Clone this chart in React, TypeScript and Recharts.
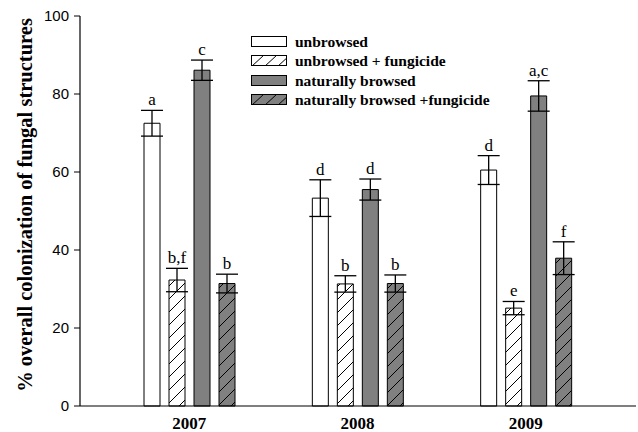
import React from "react"
import { BarChart, Bar, XAxis, YAxis, ErrorBar, LabelList } from "recharts"

document.body.style.margin = "0"

const years = ["2007", "2008", "2009"]
const unbrowsed = [72.5, 53.3, 60.5]
const unbrowsedErr = [3.3, 4.7, 3.7]
const unbrowsedFung = [32.3, 31.3, 25.1]
const unbrowsedFungErr = [3.0, 2.1, 1.7]
const browsed = [86.1, 55.5, 79.5]
const browsedErr = [2.6, 2.7, 3.9]
const browsedFung = [31.4, 31.4, 37.9]
const browsedFungErr = [2.4, 2.2, 4.2]
const lettersU = ["a", "d", "d"]
const lettersUF = ["b,f", "b", "e"]
const lettersB = ["c", "d", "a,c"]
const lettersBF = ["b", "b", "f"]
const yTicks = [0, 20, 40, 60, 80, 100]

const data = years.map((y, i) => ({
  year: y,
  u: unbrowsed[i], uErr: unbrowsedErr[i], uL: lettersU[i],
  uf: unbrowsedFung[i], ufErr: unbrowsedFungErr[i], ufL: lettersUF[i],
  b: browsed[i], bErr: browsedErr[i], bL: lettersB[i],
  bf: browsedFung[i], bfErr: browsedFungErr[i], bfL: lettersBF[i],
}))

const GREY = "#808080"
const serif = "'Liberation Serif', 'Times New Roman', serif"
const plotH = 389
const pxPer = plotH / 100

const series = [
  { key: "u", name: "unbrowsed", fill: "#ffffff", errs: unbrowsedErr },
  { key: "uf", name: "unbrowsed + fungicide", fill: "url(#hatchWhite)", errs: unbrowsedFungErr },
  { key: "b", name: "naturally browsed", fill: GREY, errs: browsedErr },
  { key: "bf", name: "naturally browsed +fungicide", fill: "url(#hatchGrey)", errs: browsedFungErr },
]

function letterContent(errs: number[]) {
  return (props: any) => {
    const { x, y, width, value, index } = props
    const off = errs[index] * pxPer + 5
    return (
      <text x={x + width / 2} y={y - off} textAnchor="middle" fontFamily={serif} fontSize={17} fill="#000" stroke="none">
        {value}
      </text>
    )
  }
}

// y-axis title, drawn by hand so it sits where the original does
const yTitle = () => {
  const cx = 25
  const cy = 205
  return (
    <text
      x={cx}
      y={cy}
      transform={`rotate(-90, ${cx}, ${cy})`}
      textAnchor="middle"
      dominantBaseline="central"
      fontFamily={serif}
      fontWeight="bold"
      fontSize={20.5}
      fill="#000"
    >
      % overall colonization of fungal structures
    </text>
  )
}

function Swatch({ bg, hatch }: { bg: string; hatch: boolean }) {
  const id = "sw" + bg.replace("#", "")
  return (
    <svg width={37} height={12} style={{ display: "block" }}>
      <defs>
        <pattern id={id} patternUnits="userSpaceOnUse" width={13} height={12}>
          <rect width={13} height={12} fill={bg} />
          <path d="M0,12 L13,0" stroke="#000" strokeWidth={1} />
        </pattern>
      </defs>
      <rect x={0.5} y={0.5} width={35} height={10} fill={hatch ? `url(#${id})` : bg} stroke="#000" strokeWidth={1} />
    </svg>
  )
}

function CustomLegend() {
  return (
    <div style={{ position: "absolute", left: 251, top: 32, fontFamily: serif, fontWeight: "bold", fontSize: 15.5, color: "#000" }}>
      {series.map((s) => (
        <div key={s.key} style={{ display: "flex", alignItems: "center", height: 19.5, whiteSpace: "nowrap" }}>
          <Swatch bg={s.key.startsWith("u") ? "#ffffff" : GREY} hatch={s.key.endsWith("f")} />
          <span style={{ marginLeft: 7 }}>{s.name}</span>
        </div>
      ))}
    </div>
  )
}

export default function App() {
  return (
    <div style={{ position: "relative", width: 638, height: 432 }}>
      <BarChart
        width={638}
        height={432}
        data={data}
        margin={{ top: 16, right: 2, bottom: 0, left: 0 }}
        barSize={16}
        barGap={9}
      >
        <defs>
          <pattern id="hatchWhite" patternUnits="userSpaceOnUse" width={13} height={13}>
            <rect width={13} height={13} fill="#ffffff" />
            <path d="M0,13 L13,0 M-1,1 L1,-1 M12,14 L14,12" stroke="#000" strokeWidth={1} />
          </pattern>
          <pattern id="hatchGrey" patternUnits="userSpaceOnUse" width={13} height={13}>
            <rect width={13} height={13} fill={GREY} />
            <path d="M0,13 L13,0 M-1,1 L1,-1 M12,14 L14,12" stroke="#000" strokeWidth={1} />
          </pattern>
        </defs>
        <XAxis
          dataKey="year"
          height={26}
          padding={{ left: 25, right: 26 }}
          tickLine={false}
          tickSize={0}
          tickMargin={11}
          axisLine={{ stroke: "#000", strokeWidth: 1.2 }}
          tick={{ fontFamily: serif, fontWeight: "bold", fontSize: 17, fill: "#000" }}
        />
        <XAxis xAxisId="top" dataKey="year" orientation="top" height={0} tick={false} tickLine={false} axisLine={{ stroke: "#000", strokeWidth: 1.2 }} />
        <YAxis
          width={80}
          domain={[0, 100]}
          ticks={yTicks}
          tickSize={6}
          tickMargin={5}
          axisLine={{ stroke: "#000", strokeWidth: 1.2 }}
          tickLine={{ stroke: "#000" }}
          tick={{ fontFamily: "'Liberation Sans', Arial, sans-serif", fontSize: 15, fill: "#000" }}
          label={{ content: yTitle }}
        />
        <YAxis yAxisId="right" orientation="right" width={0} tick={false} tickLine={false} axisLine={{ stroke: "#000", strokeWidth: 1.2 }} />
        {series.map((s) => (
          <Bar key={s.key} dataKey={s.key} name={s.name} fill={s.fill} stroke="#000" strokeWidth={1} isAnimationActive={false}>
            <ErrorBar dataKey={s.key + "Err"} width={11} stroke="#000" strokeWidth={1.3} />
            <LabelList dataKey={s.key + "L"} content={letterContent(s.errs)} />
          </Bar>
        ))}
      </BarChart>
      <CustomLegend />
    </div>
  )
}
